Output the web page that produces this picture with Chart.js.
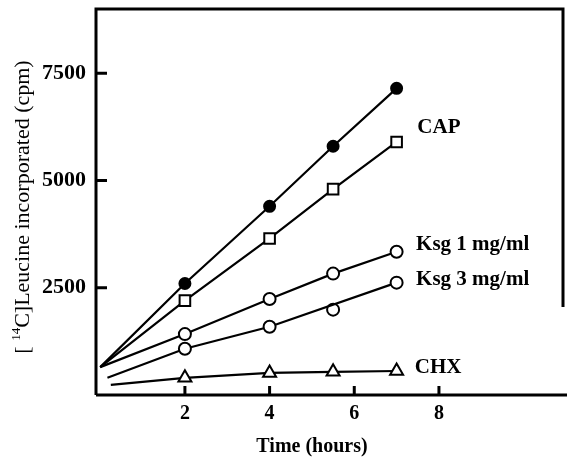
<!DOCTYPE html>
<html>
<head>
<meta charset="utf-8">
<script src="https://cdn.jsdelivr.net/npm/chart.js@4.4.1/dist/chart.umd.min.js"></script>
<style>
  html, body { margin: 0; padding: 0; background: #fff; }
  canvas { display: block; }
</style>
</head>
<body>
<canvas id="leucineChart" width="567" height="461"></canvas>
<script>
// values (time in hours, cpm)
const capTimes = [0, 2, 4, 5.5, 7];
const capValues = [650, 2600, 4400, 5800, 7150];
const capSqTimes = [0, 2, 4, 5.5, 7];
const capSqValues = [650, 2200, 3650, 4800, 5900];
const ksg1Times = [0, 2, 4, 5.5, 7];
const ksg1Values = [650, 1420, 2240, 2830, 3340];
const ksg3Times = [0.17, 2, 4, 7];
const ksg3Values = [400, 1080, 1590, 2620];
const ksg3OffTimes = [5.5];
const ksg3OffValues = [1990];
const chxTimes = [0.25, 2, 4, 5.5, 7];
const chxValues = [235, 400, 515, 540, 560];

const xTicks = [2, 4, 6, 8];
const yTicks = [2500, 5000, 7500];
const seriesLabels = ['CAP', 'Ksg 1 mg/ml', 'Ksg 3 mg/ml', 'CHX'];

const serif = "'Liberation Serif', 'Times New Roman', serif";

const pts = (xs, ys) => xs.map((x, i) => ({ x: x, y: ys[i] }));
// first point of each fitted line is just where the line starts, no marker
const startless = r => ctx => ctx.dataIndex === 0 ? 0 : r;

const series = (data, style, radius, fill, line) => ({
  data: data,
  showLine: line !== false,
  borderColor: '#000',
  borderWidth: 2.2,
  pointStyle: style,
  pointRadius: line === false ? radius : startless(radius),
  pointBackgroundColor: fill,
  pointBorderColor: '#000',
  pointBorderWidth: 2,
  tension: 0
});

const framePlugin = {
  id: 'frame',
  afterDraw(chart) {
    const { ctx, chartArea: a, scales: { x, y } } = chart;
    ctx.save();
    ctx.strokeStyle = '#000';
    ctx.lineWidth = 3;
    ctx.beginPath();
    ctx.moveTo(a.left, a.bottom);
    ctx.lineTo(a.left, a.top);
    ctx.lineTo(a.right, a.top);
    ctx.lineTo(a.right, y.getPixelForValue(2050));
    ctx.moveTo(a.left, a.bottom);
    ctx.lineTo(chart.width, a.bottom);
    // inward tick marks
    yTicks.forEach(v => {
      const py = y.getPixelForValue(v);
      ctx.moveTo(a.left, py);
      ctx.lineTo(a.left + 11, py);
    });
    xTicks.forEach(v => {
      const px = x.getPixelForValue(v);
      ctx.moveTo(px, a.bottom);
      ctx.lineTo(px, a.bottom - 9);
    });
    ctx.stroke();

    // curve labels
    ctx.fillStyle = '#000';
    ctx.font = 'bold 21px ' + serif;
    ctx.textBaseline = 'alphabetic';
    ctx.textAlign = 'left';
    const anchors = [[7.49, 6098], [7.46, 3388], [7.46, 2570], [7.43, 514]];
    seriesLabels.forEach((t, i) => {
      ctx.fillText(t, x.getPixelForValue(anchors[i][0]), y.getPixelForValue(anchors[i][1]));
    });

    // x axis title, centred under the tick range as in the figure
    ctx.font = 'bold 20px ' + serif;
    ctx.textAlign = 'center';
    ctx.textBaseline = 'middle';
    ctx.fillText('Time (hours)', 312, 447);

    // y axis title with superscript 14
    ctx.textAlign = 'left';
    ctx.textBaseline = 'alphabetic';
    ctx.translate(29, 207);
    ctx.rotate(-Math.PI / 2);
    const big = '22px ' + serif, small = '13px ' + serif;
    ctx.font = big;
    const w1 = ctx.measureText('[ ').width;
    const w3 = ctx.measureText('C]Leucine incorporated (cpm)').width;
    ctx.font = small;
    const w2 = ctx.measureText('14').width;
    let cx = -(w1 + w2 + w3) / 2;
    ctx.font = big;
    ctx.fillText('[ ', cx, 0);
    cx += w1;
    ctx.font = small;
    ctx.fillText('14', cx, -9);
    cx += w2;
    ctx.font = big;
    ctx.fillText('C]Leucine incorporated (cpm)', cx, 0);
    ctx.restore();
  }
};

new Chart(document.getElementById('leucineChart'), {
  type: 'scatter',
  data: {
    datasets: [
      series(pts(capTimes, capValues), 'circle', 5.5, '#000'),
      series(pts(capSqTimes, capSqValues), 'rect', 7.5, '#fff'),
      series(pts(ksg1Times, ksg1Values), 'circle', 6, '#fff'),
      series(pts(ksg3Times, ksg3Values), 'circle', 6, '#fff'),
      series(pts(ksg3OffTimes, ksg3OffValues), 'circle', 6, '#fff', false),
      series(pts(chxTimes, chxValues), 'triangle', 7.5, '#fff')
    ]
  },
  options: {
    responsive: false,
    animation: false,
    layout: { autoPadding: false, padding: { left: 0, top: 9, right: 4, bottom: 0 } },
    plugins: { legend: { display: false }, tooltip: { enabled: false } },
    elements: { point: { hoverRadius: 0 } },
    scales: {
      x: {
        type: 'linear',
        min: -0.1,
        max: 10.93,
        afterFit: s => { s.height = 66; s.paddingLeft = 0; s.paddingRight = 0; },
        afterBuildTicks: s => { s.ticks = xTicks.map(v => ({ value: v })); },
        grid: { display: false, drawTicks: false },
        border: { display: false },
        ticks: {
          color: '#000', padding: 7,
          callback: v => String(v),
          font: { family: serif, size: 20, weight: 'bold' }
        }
      },
      y: {
        type: 'linear',
        min: 0,
        max: 9000,
        afterFit: s => { s.width = 96; s.paddingTop = 0; s.paddingBottom = 0; },
        afterBuildTicks: s => { s.ticks = yTicks.map(v => ({ value: v })); },
        grid: { display: false, drawTicks: false },
        border: { display: false },
        ticks: {
          color: '#000', padding: 10,
          callback: v => String(v),
          font: { family: serif, size: 22, weight: 'bold' }
        }
      }
    }
  },
  plugins: [framePlugin]
});
</script>
</body>
</html>
